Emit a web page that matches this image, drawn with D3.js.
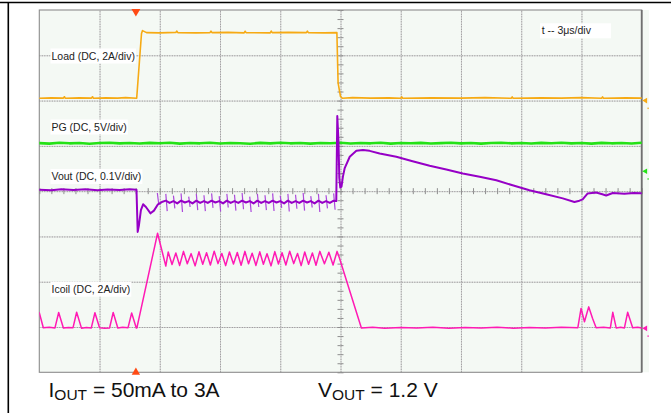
<!DOCTYPE html>
<html>
<head>
<meta charset="utf-8">
<script src="https://cdnjs.cloudflare.com/ajax/libs/d3/7.8.5/d3.min.js"></script>
<style>
  body { margin: 0; background: #fff; }
  svg { display: block; font-family: 'Liberation Sans', Arial, sans-serif; }
  .grid-solid line { stroke: #d6d6d6; }
  .grid line { stroke: #949494; stroke-dasharray: 1, 1.5; }
  .grid path, .grid-solid path, .minor path { display: none; }
  .minor line { stroke: #8e8e8e; }
  .trace { fill: none; stroke-linejoin: round; stroke-linecap: round; }
  .label { font-size: 10.5px; fill: #222; }
</style>
</head>
<body>
<script>
// time axis in microseconds (3us/div over 10 div), screen in divisions (8 div)
const timeTicks = [0, 3, 6, 9, 12, 15, 18, 21, 24, 27, 30]
const divTicks = [-4, -3, -2, -1, 0, 1, 2, 3, 4]

// Load current, A  [t us, value]
const loadTrace = [
    [0, 0.10], [0.6, 0.12], [1.2, 0.11], [1.25, 0.17], [1.3, 0.10], [2.0, 0.12], [2.6, 0.11], [2.65, 0.17],
    [2.7, 0.10], [3.3, 0.12], [3.9, 0.11], [4.3, 0.13], [4.85, 0.10], [5.09, 2.96], [5.14, 3.09], [5.34, 3.00],
    [6.0, 2.99], [6.8, 3.01], [6.85, 3.07], [6.9, 3.00], [7.8, 2.99], [8.5, 3.00], [8.55, 3.07], [8.6, 3.00],
    [9.4, 3.01], [10.2, 2.99], [10.25, 3.06], [10.3, 3.00], [11.5, 2.99], [11.55, 3.07], [11.6, 3.00],
    [12.4, 3.01], [13.3, 3.00], [13.35, 3.07], [13.4, 3.00], [14.2, 2.99], [14.82, 3.00], [14.88, 0.78],
    [15.0, 0.18], [15.1, 0.10], [15.6, 0.13], [16.5, 0.11], [17.4, 0.12], [18.0, 0.10], [18.05, 0.16],
    [18.1, 0.10], [19.5, 0.12], [21.0, 0.11], [22.2, 0.13], [23.5, 0.10], [23.55, 0.16], [23.6, 0.10],
    [25.0, 0.12], [26.0, 0.11], [27.0, 0.13], [28.0, 0.10], [28.05, 0.16], [28.1, 0.10], [29.2, 0.12], [30, 0.11]
]

// Power good, V
const pgTrace = [
    [0, 3.10], [0.5, 3.05], [1, 3.14], [1.5, 3.08], [2, 3.12], [2.5, 3.04], [3, 3.11], [3.5, 3.15], [4, 3.07],
    [4.5, 3.12], [5, 3.06], [5.5, 3.13], [6, 3.09], [6.5, 3.15], [7, 3.05], [7.5, 3.11], [8, 3.08], [8.5, 3.14],
    [9, 3.06], [9.5, 3.12], [10, 3.09], [10.5, 3.04], [11, 3.13], [11.5, 3.07], [12, 3.15], [12.5, 3.08],
    [13, 3.11], [13.5, 3.05], [14, 3.12], [14.5, 3.09], [15, 3.14], [15.5, 3.06], [16, 3.11], [16.5, 3.08],
    [17, 3.15], [17.5, 3.05], [18, 3.12], [18.5, 3.09], [19, 3.13], [19.5, 3.06], [20, 3.10], [20.5, 3.15],
    [21, 3.07], [21.5, 3.12], [22, 3.05], [22.5, 3.11], [23, 3.14], [23.5, 3.08], [24, 3.12], [24.5, 3.06],
    [25, 3.13], [25.5, 3.09], [26, 3.15], [26.5, 3.07], [27, 3.11], [27.5, 3.05], [28, 3.13], [28.5, 3.08],
    [29, 3.12], [29.5, 3.06], [30, 3.14]
]

// Vout, mV away from 1.2 V
const voutTrace = [
    [0, 3.0], [0.6, 1.8], [1.1, 4.2], [1.7, 2.6], [2.3, 4.0], [2.9, 1.9], [3.4, 3.8], [4.0, 2.4], [4.5, 4.0],
    [4.84, 3.0], [4.90, -90], [4.96, -76], [5.06, -42], [5.17, -29], [5.31, -35], [5.54, -49], [5.71, -43],
    [5.91, -29], [6.10, -24],
    [6.30, -21], [6.49, -26], [6.68, -22], [6.87, -27], [7.06, -21], [7.25, -25], [7.44, -22], [7.63, -27],
    [7.82, -21], [8.01, -26], [8.20, -22], [8.39, -26], [8.58, -21], [8.77, -25], [8.96, -22], [9.15, -27],
    [9.34, -21], [9.53, -26], [9.72, -22], [9.91, -26], [10.10, -21], [10.29, -25], [10.48, -22], [10.67, -27],
    [10.86, -21], [11.05, -26], [11.24, -22], [11.43, -26], [11.62, -21], [11.81, -25], [12.00, -22], [12.19, -27],
    [12.38, -21], [12.57, -26], [12.76, -22], [12.95, -26], [13.14, -21], [13.33, -25], [13.52, -22], [13.71, -27],
    [13.90, -21], [14.09, -26], [14.28, -22], [14.47, -26], [14.66, -21], [14.79, -22],
    [14.84, 166], [14.90, 110], [14.94, 30], [14.99, 8], [15.05, 10], [15.12, 32], [15.21, 51], [15.46, 76],
    [15.79, 89], [16.12, 91], [16.45, 89], [16.95, 83], [17.78, 76], [18.59, 66], [19.44, 56], [20.27, 48],
    [21.09, 39], [21.93, 32], [22.76, 24], [23.57, 13], [24.41, 2], [25.24, -7], [26.07, -16], [26.65, -24],
    [26.90, -21], [27.06, -18], [27.31, -5], [27.73, -3], [28.04, -7], [28.23, -9.5], [28.56, -4], [29.14, -6],
    [29.6, -4], [30, -4.5]
]

// switching spikes on Vout: [t us, top mV, bottom mV]
const voutSpikes = [
    [5.88, -4, -30], [6.30, -6, -44], [6.68, -10, -38], [7.06, -5, -46], [7.44, -12, -35], [7.82, -6, -42],
    [8.20, -9, -44], [8.58, -5, -37], [8.96, -11, -45], [9.34, -6, -36], [9.72, -8, -43], [10.10, -4, -40],
    [10.48, -12, -46], [10.86, -6, -35], [11.24, -9, -42], [11.62, -5, -44], [12.00, -10, -37],
    [12.38, -6, -45], [12.76, -8, -39], [13.14, -4, -43], [13.52, -11, -36], [13.90, -6, -46],
    [14.28, -9, -38], [14.66, -5, -41]
]

// inductor current, A
const icoilTrace = [
    [0, 0.69], [0.20, 0.03], [0.5, 0.05], [0.78, 0.02], [0.965, 0.70], [1.20, 0.02], [1.45, 0.04],
    [1.68, 0.03], [1.86, 0.71], [2.10, 0.01], [2.35, 0.04], [2.59, 0.02], [2.77, 0.69], [3.00, 0.03],
    [3.25, 0.01], [3.50, 0.02], [3.68, 0.70], [3.91, 0.02], [4.15, 0.05], [4.42, 0.03], [4.60, 0.68],
    [4.83, 0.02], [4.86, 0.02], [5.89, 4.20], [6.30, 2.75],
    [6.42, 3.37], [6.61, 2.82], [6.80, 3.33], [6.99, 2.78], [7.18, 3.40], [7.37, 2.85], [7.56, 3.30],
    [7.76, 2.76], [7.95, 3.38], [8.14, 2.83], [8.33, 3.34], [8.52, 2.80], [8.71, 3.41], [8.90, 2.86],
    [9.09, 3.31], [9.28, 2.77], [9.47, 3.37], [9.67, 2.84], [9.86, 3.35], [10.05, 2.79], [10.24, 3.40],
    [10.42, 2.85], [10.60, 3.32], [10.79, 2.78], [10.98, 3.38], [11.16, 2.83], [11.34, 3.30], [11.54, 2.76],
    [11.73, 3.39], [11.91, 2.84], [12.09, 3.34], [12.28, 2.80], [12.47, 3.41], [12.67, 2.86], [12.86, 3.31],
    [13.04, 2.77], [13.22, 3.37], [13.41, 2.83], [13.60, 3.33], [13.78, 2.79], [13.97, 3.40], [14.20, 2.85],
    [14.42, 3.36], [14.63, 2.80], [14.83, 3.40], [14.93, 3.15], [16.04, 0.02],
    [16.6, 0.05], [17.2, 0.01], [18.0, 0.04], [18.8, 0.02], [19.6, 0.05], [20.4, 0.01], [21.2, 0.04],
    [22.0, 0.02], [22.8, 0.05], [23.6, 0.01], [24.4, 0.04], [25.2, 0.02], [26.0, 0.05], [26.82, 0.03],
    [26.98, 0.88], [27.15, 0.29], [27.36, 0.95], [27.55, 0.45], [27.73, 0.03], [28.1, 0.05],
    [28.44, 0.02], [28.56, 0.71], [28.73, 0.02], [28.95, 0.05], [29.14, 0.02], [29.30, 0.71],
    [29.55, 0.03], [29.8, 0.05], [30, 0.02]
]

const channelNames = ['Load (DC, 2A/div)', 'PG (DC, 5V/div)', 'Vout (DC, 0.1V/div)', 'Icoil (DC, 2A/div)']
const timebaseLabel = 't -- 3\u03bcs/div'
const triggerTime = 4.81

// svg size and screen box
const w = 671
const h = 413
const scrL = 39.3
const scrR = 641.7
const scrT = 10
const scrB = 372.3

// channel settings: ground position in div, units per div
const channels = [
    { name: channelNames[0], data: loadTrace, perDiv: 2, ground: 2.0, color: '#f6aa14', width: 1.6, marker: true, labelY: 59.5 },
    { name: channelNames[1], data: pgTrace, perDiv: 5, ground: 0.44, color: '#24e216', width: 2.6, marker: true, labelY: 130.5 },
    { name: channelNames[2], data: voutTrace, perDiv: 100, ground: 0, color: '#9600c6', width: 2, marker: false, labelY: 180 },
    { name: channelNames[3], data: icoilTrace, perDiv: 2, ground: -3.03, color: '#ff1ab4', width: 1.5, marker: true, labelY: 292.7 }
]

const xScale = d3.scaleLinear().domain([0, 30]).range([scrL, scrR])
const yScale = d3.scaleLinear().domain([-4, 4]).range([scrB, scrT])

const svg = d3.select('body')
    .append('svg')
    .attr('width', w)
    .attr('height', h)

// outer frame lines
svg.append('line').attr('x1', 0).attr('x2', w).attr('y1', 2.5).attr('y2', 2.5)
    .style('stroke', '#000').style('stroke-width', 1.6)
svg.append('line').attr('x1', 8.3).attr('x2', 8.3).attr('y1', 2).attr('y2', h)
    .style('stroke', '#000').style('stroke-width', 1.6)

// screen background + right marker strip
svg.append('rect')
    .attr('x', scrL).attr('y', scrT)
    .attr('width', 649 - scrL).attr('height', scrB - scrT)
    .style('fill', '#f4f9f4')

// grid, drawn with axes
const gridV = () => d3.axisBottom(xScale).tickValues(timeTicks.slice(1, -1)).tickSize(-(scrB - scrT)).tickFormat('')
const gridH = () => d3.axisLeft(yScale).tickValues(divTicks.slice(1, -1)).tickSize(-(scrR - scrL)).tickFormat('')

svg.append('g').attr('class', 'grid-solid').attr('transform', `translate(0,${scrB})`).call(gridV())
svg.append('g').attr('class', 'grid-solid').attr('transform', `translate(${scrL},0)`).call(gridH())
svg.append('g').attr('class', 'grid').attr('transform', `translate(0,${scrB})`).call(gridV())
svg.append('g').attr('class', 'grid').attr('transform', `translate(${scrL},0)`).call(gridH())

// minor ticks on the centre cross
const minorT = d3.range(0, 30.001, 0.6)
const minorD = d3.range(-4, 4.001, 0.2)
svg.append('g').attr('class', 'minor').attr('transform', `translate(0,${yScale(0)})`)
    .call(d3.axisBottom(xScale).tickValues(minorT).tickSize(3).tickFormat(''))
svg.append('g').attr('class', 'minor').attr('transform', `translate(0,${yScale(0)})`)
    .call(d3.axisTop(xScale).tickValues(minorT).tickSize(3).tickFormat(''))
svg.append('g').attr('class', 'minor').attr('transform', `translate(${xScale(15)},0)`)
    .call(d3.axisLeft(yScale).tickValues(minorD).tickSize(3).tickFormat(''))
svg.append('g').attr('class', 'minor').attr('transform', `translate(${xScale(15)},0)`)
    .call(d3.axisRight(yScale).tickValues(minorD).tickSize(3).tickFormat(''))

// border of the screen
svg.append('rect')
    .attr('x', scrL).attr('y', scrT)
    .attr('width', scrR - scrL).attr('height', scrB - scrT)
    .style('fill', 'none').style('stroke', '#8c8c8c').style('stroke-width', 1.1)
svg.append('line').attr('x1', scrR).attr('x2', scrR).attr('y1', scrT).attr('y2', scrB)
    .style('stroke', '#707070').style('stroke-width', 1.8)

// channel labels with white boxes
channels.forEach(ch => {
    const g = svg.append('g')
    const rect = g.append('rect').style('fill', '#fff')
    const txt = g.append('text')
        .attr('class', 'label')
        .attr('x', 51.5)
        .attr('y', ch.labelY)
        .text(ch.name)
    const len = txt.node().getComputedTextLength()
    rect.attr('x', 50.5).attr('y', ch.labelY - 11).attr('width', len + 2).attr('height', 15)
})

// timebase label
svg.append('rect').attr('x', 540).attr('y', 23.3).attr('width', 71).attr('height', 15).style('fill', '#fff')
svg.append('text').attr('class', 'label').attr('x', 541.7).attr('y', 34.3).text(timebaseLabel)

// clip traces to screen
svg.append('clipPath').attr('id', 'screen')
    .append('rect').attr('x', scrL).attr('y', scrT).attr('width', scrR - scrL).attr('height', scrB - scrT)

const traces = svg.append('g').attr('clip-path', 'url(#screen)')

// vout switching spikes (thin, lighter)
const voutCh = channels[2]
traces.selectAll('.spike')
    .data(voutSpikes)
    .enter()
    .append('line')
    .attr('class', 'spike')
    .attr('x1', d => xScale(d[0]))
    .attr('x2', d => xScale(d[0] + 0.07))
    .attr('y1', d => yScale(voutCh.ground + d[1] / voutCh.perDiv))
    .attr('y2', d => yScale(voutCh.ground + d[2] / voutCh.perDiv))
    .style('stroke', '#ac48dc')
    .style('stroke-width', 1.2)

// add the traces
channels.forEach(ch => {
    const line = d3.line()
        .x(d => xScale(d[0]))
        .y(d => yScale(ch.ground + d[1] / ch.perDiv))
    traces.append('path')
        .datum(ch.data)
        .attr('class', 'trace')
        .attr('d', line)
        .style('stroke', ch.color)
        .style('stroke-width', ch.width)
})

// ground markers on the right
channels.filter(ch => ch.marker).forEach(ch => {
    svg.append('path')
        .attr('d', d3.symbol(d3.symbolTriangle, 14)())
        .attr('transform', `translate(645.5,${yScale(ch.ground)}) rotate(-90)`)
        .style('fill', ch.color)
    svg.append('rect')
        .attr('x', 647.5).attr('y', yScale(ch.ground) + 7).attr('width', 1.2).attr('height', 1.5)
        .style('fill', ch.color)
})

// trigger markers
svg.append('path')
    .attr('d', d3.symbol(d3.symbolTriangle, 34)())
    .attr('transform', `translate(${xScale(triggerTime)},${scrT + 1.5}) rotate(180)`)
    .style('fill', '#ff4a14')
svg.append('path')
    .attr('d', d3.symbol(d3.symbolTriangle, 30)())
    .attr('transform', `translate(${xScale(triggerTime)},${scrB})`)
    .style('fill', '#ff4a14')

// caption under the screen
const caption = (x, name, rest) => {
    const t = svg.append('text')
        .attr('x', x)
        .attr('y', 397)
        .style('font-size', '21px')
        .style('fill', '#111')
    t.append('tspan').text(name)
    t.append('tspan').attr('dy', 3).style('font-size', '15.5px').text('OUT')
    t.append('tspan').attr('dy', -3).text(rest)
}
caption(48.5, 'I', ' = 50mA to 3A')
caption(318, 'V', ' = 1.2 V')
</script>
</body>
</html>
